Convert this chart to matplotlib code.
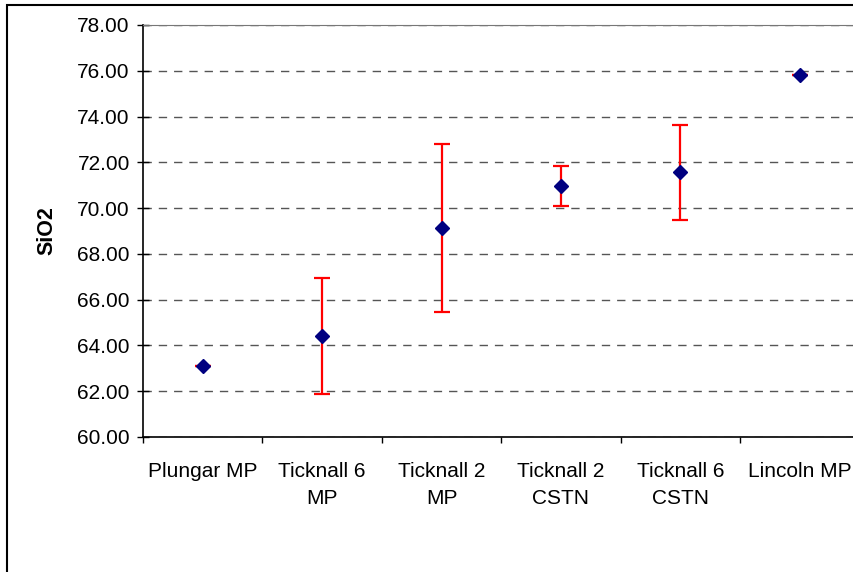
import matplotlib
matplotlib.use('Agg')
import matplotlib.pyplot as plt
from matplotlib.patches import Rectangle
from matplotlib.ticker import FixedLocator, FormatStrFormatter

# data
sites = ['Plungar MP', 'Ticknall 6\nMP', 'Ticknall 2\nMP', 'Ticknall 2\nCSTN',
         'Ticknall 6\nCSTN', 'Lincoln MP']
sio2 = [63.12, 64.42, 69.12, 70.97, 71.57, 75.83]
sio2_err = [0.0, 2.53, 3.66, 0.88, 2.08, 0.0]

plt.rcParams['font.family'] = ['Liberation Sans', 'DejaVu Sans']

fig = plt.figure(figsize=(8.54, 5.72), dpi=100)
W, H = 854, 572
ax = fig.add_axes([143 / W, 1 - 437 / H, (859.5 - 143) / W, (437 - 25) / H])

# outer chart frame (right and bottom edges fall outside the picture)
fig.patches.append(Rectangle((7 / W, -0.05), 1.2, 1 - 5 / H + 0.05,
                             transform=fig.transFigure, fill=False,
                             edgecolor='black', linewidth=1.5))

x = list(range(len(sites)))
ax.errorbar(x, sio2, yerr=sio2_err, fmt='none', ecolor='red',
            elinewidth=1.6, capsize=5.5, capthick=1.6, zorder=3)
ax.plot(x, sio2, linestyle='none', marker='D', markersize=7.2,
        color='#000080', zorder=4)

ax.set_xlim(-0.5, len(sites) - 0.5)
ax.set_ylim(60, 78)
ax.yaxis.set_major_locator(FixedLocator([60 + 2 * i for i in range(10)]))
ax.yaxis.set_major_formatter(FormatStrFormatter('%.2f'))
ax.grid(axis='y', color='#555555', linestyle=(0, (6, 5)), linewidth=1)
ax.set_axisbelow(True)

ax.xaxis.set_major_locator(FixedLocator([i - 0.5 for i in range(len(sites) + 1)]))
ax.xaxis.set_major_formatter(plt.NullFormatter())
ax.xaxis.set_minor_locator(FixedLocator(x))
ax.set_xticklabels(sites, minor=True)
ax.tick_params(axis='x', which='minor', length=0, pad=18, labelsize=15)
ax.tick_params(axis='x', which='major', direction='out', length=4, width=1)
ax.tick_params(axis='y', direction='inout', length=9, width=1, labelsize=15, pad=5)

for lbl in ax.get_xticklabels(minor=True):
    lbl.set_linespacing(1.55)

ax.spines['right'].set_visible(False)
ax.spines['top'].set_color('#777777')
ax.spines['left'].set_linewidth(1.2)
ax.spines['bottom'].set_linewidth(1.2)

ax.set_ylabel('SiO2', fontsize=15.5, fontweight='bold', labelpad=14)

fig.savefig('out.png', dpi=100)
